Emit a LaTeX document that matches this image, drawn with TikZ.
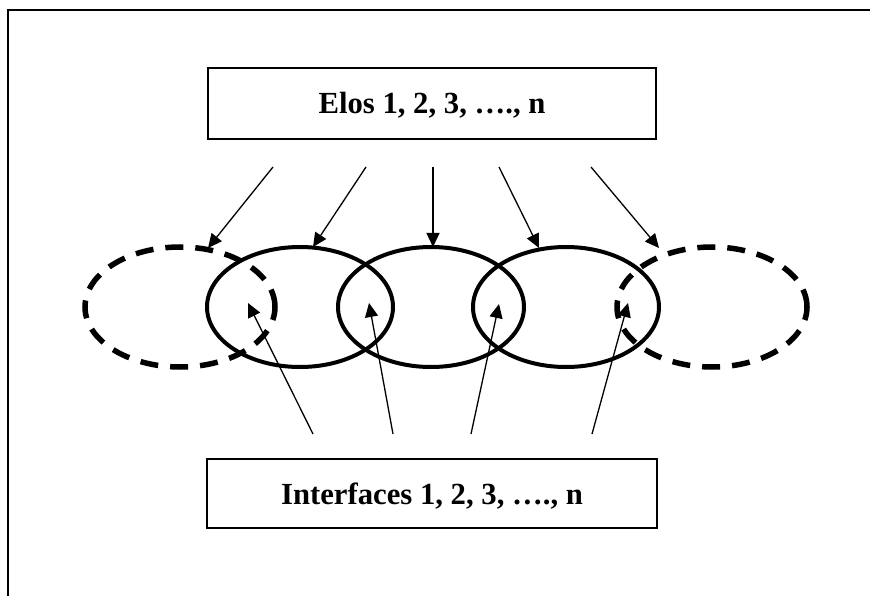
\documentclass[tikz,border=0pt]{standalone}
\usepackage{fontspec}
\setmainfont{Liberation Serif}
\usetikzlibrary{arrows.meta,shapes.geometric}
\begin{document}
\begin{tikzpicture}[x=1pt,y=-1pt,
  labelbox/.style={draw, line width=1.5pt, inner sep=0pt},
  labeltext/.style={anchor=base, inner sep=0pt,
    font=\fontsize{30.7}{36}\selectfont\bfseries},
  ring/.style={ellipse, draw, line width=4pt, inner sep=0pt,
    minimum width=186pt, minimum height=120pt},
  dashring/.style={ellipse, draw, line width=5.5pt, inner sep=0pt,
    dash pattern=on 18pt off 12pt,
    minimum width=190pt, minimum height=120pt},
  link/.style={line width=1.3pt, -{Triangle[length=14pt,width=13pt]}}]
\useasboundingbox (0,0) rectangle (870,596);
% outer frame
\draw[line width=1.5pt] (8,596) -- (8,10) -- (870,10);
% boxes and their captions
\node[labelbox, minimum width=448pt, minimum height=71pt] (elos) at (432,103.5) {};
\node[labeltext] (elostext) at (432,114) {Elos 1, 2, 3, …., n};
\node[labelbox, minimum width=450pt, minimum height=69pt] (intf) at (432,493.5) {};
\node[labeltext] (intftext) at (432,504) {Interfaces 1, 2, 3, …., n};
% rings
\node[dashring] (dl) at (180,307) {};
\node[dashring] (dr) at (712,307) {};
\node[ring] (e1) at (300,307) {};
\node[ring] (e2) at (431,307) {};
\node[ring] (e3) at (566,307) {};
% arrow start and end points
\coordinate (t1) at (273,167); \coordinate (h1) at (208,248);
\coordinate (t2) at (366,167); \coordinate (h2) at (313,247);
\coordinate (t3) at (433,167); \coordinate (h3) at (433,247);
\coordinate (t4) at (499,167); \coordinate (h4) at (539,248);
\coordinate (t5) at (591,167); \coordinate (h5) at (659,248);
\coordinate (b1) at (313,434); \coordinate (g1) at (248,303);
\coordinate (b2) at (393,434); \coordinate (g2) at (369,303);
\coordinate (b3) at (471,434); \coordinate (g3) at (499,304);
\coordinate (b4) at (592,434); \coordinate (g4) at (628,303);
\foreach \i in {1,...,5} \draw[link] (t\i) -- (h\i);
\foreach \i in {1,...,4} \draw[link] (b\i) -- (g\i);
\end{tikzpicture}
\end{document}
